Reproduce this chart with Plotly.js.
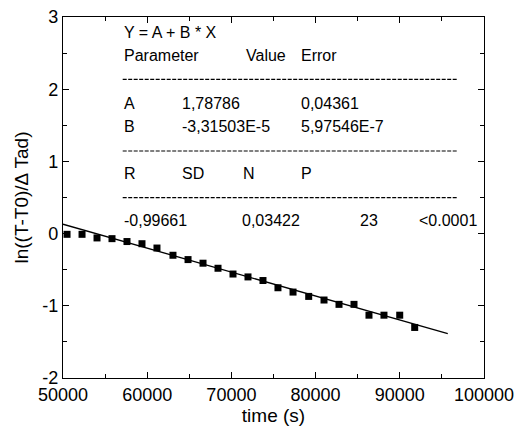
<!DOCTYPE html>
<html>
<head>
<meta charset="utf-8">
<script src="https://cdn.plot.ly/plotly-3.0.1.min.js"></script>
<style>html,body{margin:0;padding:0;background:#fff;}#chart{width:518px;height:437px;}</style>
</head>
<body>
<div id="chart"></div>
<script>
// Measured points
const timeS = [50480, 52260, 54040, 55820, 57600, 59380, 61160, 63060, 64850, 66630, 68410, 70190,
               71970, 73750, 75530, 77320, 79180, 81000, 82780, 84560, 86340, 88120, 89990, 91770];
const lnRatio = [-0.01, -0.01, -0.06, -0.07, -0.11, -0.14, -0.20, -0.30, -0.36, -0.41, -0.48, -0.56,
                 -0.60, -0.65, -0.75, -0.81, -0.87, -0.92, -0.98, -0.98, -1.13, -1.13, -1.13, -1.30];
// Fitted line end points
const fitX = [50000, 95700];
const fitY = [0.13, -1.385];
// Axis ticks
const xTickVals = [50000, 60000, 70000, 80000, 90000, 100000];
const xTickText = ['50000', '60000', '70000', '80000', '90000', '100000'];
const yTickVals = [-2, -1, 0, 1, 2, 3];
const yTickText = ['-2', '-1', '0', '1', '2', '3'];
// Fit report text
const reportRows = [
  ['Y = A + B * X'],
  ['Parameter', 'Value', 'Error'],
  ['A', '1,78786', '0,04361'],
  ['B', '-3,31503E-5', '5,97546E-7'],
  ['R', 'SD', 'N', 'P'],
  ['-0,99661', '0,03422', '23', '<0.0001']
];

const FONT = 'Liberation Sans, Arial, sans-serif';
const plotL = 63.3, plotT = 16.7, plotW = 421, plotH = 361;
const px2x = p => (p - plotL) / plotW;
const px2y = p => (plotT + plotH - p) / plotH;

const rowY = [31.7, 55, 103.3, 126.7, 173.3, 220];
const colX = [
  [123.3],
  [123.3, 245, 300],
  [123.3, 181.7, 300],
  [123.3, 181.7, 300],
  [123.3, 181.7, 242.7, 300.7],
  [123.3, 241.7, 359.3, 418.3]
];
const annotations = [];
reportRows.forEach((row, i) => {
  row.forEach((t, j) => {
    annotations.push({
      xref: 'paper', yref: 'paper', x: px2x(colX[i][j]), y: px2y(rowY[i]),
      xanchor: 'left', yanchor: 'middle', showarrow: false, text: t,
      borderpad: 0, font: {family: FONT, size: 16, color: '#000'}
    });
  });
});
const dashY = [79, 150.7, 197.3];
const shapes = dashY.map(py => ({
  type: 'line', xref: 'paper', yref: 'paper', x0: px2x(123), x1: px2x(457.5),
  y0: px2y(py), y1: px2y(py), line: {color: '#000', width: 1.2, dash: '4px,1.5px'}
}));

const traces = [
  {x: timeS, y: lnRatio, mode: 'markers', type: 'scatter',
   marker: {symbol: 'square', size: 7, color: '#000'}},
  {x: fitX, y: fitY, mode: 'lines', type: 'scatter', line: {color: '#000', width: 1.3}}
];

const axisCommon = {
  showline: true, linecolor: '#000', linewidth: 1.2, mirror: 'allticks',
  ticks: 'inside', ticklen: 6, tickwidth: 1, tickcolor: '#000',
  showgrid: false, zeroline: false, tickmode: 'array',
  tickfont: {family: FONT, size: 18, color: '#000'}
};
const layout = {
  width: 518, height: 437,
  margin: {l: 63, r: 34, t: 17, b: 59, pad: 0},
  paper_bgcolor: '#fff', plot_bgcolor: '#fff', showlegend: false,
  xaxis: Object.assign({}, axisCommon, {
    range: [50000, 100000], tickvals: xTickVals, ticktext: xTickText,
    minor: {tickmode: 'linear', tick0: 50000, dtick: 5000, ticks: 'inside', ticklen: 4, tickcolor: '#000'},
    title: {text: 'time (s)', font: {family: FONT, size: 19, color: '#000'}, standoff: 4}
  }),
  yaxis: Object.assign({}, axisCommon, {
    range: [-2, 3], tickvals: yTickVals, ticktext: yTickText,
    minor: {tickmode: 'linear', tick0: -2, dtick: 0.5, ticks: 'inside', ticklen: 4, tickcolor: '#000'},
    title: {text: 'ln((T-T0)/Δ Tad)', font: {family: FONT, size: 19, color: '#000'}, standoff: 8}
  }),
  annotations: annotations,
  shapes: shapes
};
Plotly.newPlot('chart', traces, layout, {displayModeBar: false, staticPlot: true});
</script>
</body>
</html>
